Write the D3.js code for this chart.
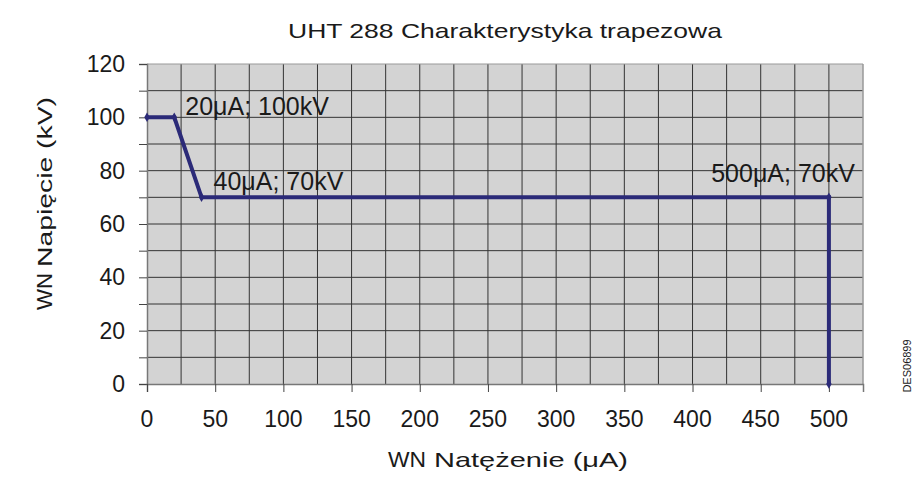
<!DOCTYPE html>
<html>
<head>
<meta charset="utf-8">
<script src="https://cdn.jsdelivr.net/npm/d3@7"></script>
<style>
  body { margin: 0; background: #fff; }
  text { font-family: "Liberation Sans", Arial, sans-serif; fill: #1a1a1a; }
</style>
</head>
<body>
<div id="chart"></div>
<script>
const svgWidth = 915;
const svgHeight = 478;

// data
const currentUA = [0, 20, 40, 500, 500];
const voltageKV = [100, 100, 70, 70, 0];
const pointLabels = ["20μA; 100kV", "40μA; 70kV", "500μA; 70kV"];
const labelIndex = [1, 2, 3];
const xTicks = [0, 50, 100, 150, 200, 250, 300, 350, 400, 450, 500];
const yTicks = [0, 20, 40, 60, 80, 100, 120];
const chartTitle = "UHT 288 Charakterystyka trapezowa";

const svg = d3.select("#chart")
  .append("svg")
  .attr("width", svgWidth)
  .attr("height", svgHeight);

const plot = {left: 147, right: 863, top: 64, bottom: 384};

const x = d3.scaleLinear().domain([0, 525]).range([plot.left, plot.right]);
const y = d3.scaleLinear().domain([0, 120]).range([plot.bottom, plot.top]);

// plot background
svg.append("rect")
  .attr("x", plot.left).attr("y", plot.top)
  .attr("width", plot.right - plot.left).attr("height", plot.bottom - plot.top)
  .attr("fill", "#d3d3d3");

// grid: every 25 on x, every 10 on y
const grid = svg.append("g");
grid.selectAll(".vg")
  .data(d3.range(25, 525, 25))
  .enter().append("line")
  .attr("x1", d => x(d)).attr("x2", d => x(d))
  .attr("y1", plot.top).attr("y2", plot.bottom)
  .attr("stroke", "#333")
  .attr("stroke-width", 1);
grid.selectAll(".hg")
  .data(d3.range(10, 121, 10))
  .enter().append("line")
  .attr("x1", plot.left).attr("x2", plot.right)
  .attr("y1", d => y(d)).attr("y2", d => y(d))
  .attr("stroke", d => d === 120 ? "#999" : "#333")
  .attr("stroke-width", 1);

// right frame
svg.append("line")
  .attr("x1", plot.right).attr("x2", plot.right)
  .attr("y1", plot.top).attr("y2", plot.bottom)
  .attr("stroke", "#999").attr("stroke-width", 1.5);

// axes
const yAxis = d3.axisLeft(y).tickValues(d3.range(0, 121, 10)).tickSize(8).tickFormat("");
const xAxis = d3.axisBottom(x).tickValues(xTicks).tickSize(8).tickFormat("");

const yG = svg.append("g").attr("transform", `translate(${plot.left},0)`).call(yAxis);
const xG = svg.append("g").attr("transform", `translate(0,${plot.bottom})`).call(xAxis);
[yG, xG].forEach(g => {
  g.select(".domain").attr("stroke", "#777").attr("stroke-width", 1.5);
  g.selectAll(".tick line").attr("stroke", "#444");
});

svg.append("g").selectAll("text")
  .data(yTicks)
  .enter().append("text")
  .attr("x", 125)
  .attr("y", d => y(d) + 8)
  .attr("text-anchor", "end")
  .attr("font-size", 23)
  .text(d => d);

svg.append("g").selectAll("text")
  .data(xTicks)
  .enter().append("text")
  .attr("x", d => x(d))
  .attr("y", 427)
  .attr("text-anchor", "middle")
  .attr("font-size", 23)
  .text(d => d);

// series
const pts = currentUA.map((c, i) => [c, voltageKV[i]]);
svg.append("path")
  .datum(pts)
  .attr("d", d3.line().x(d => x(d[0])).y(d => y(d[1])))
  .attr("fill", "none")
  .attr("stroke", "#2b2a78")
  .attr("stroke-width", 4)
  .attr("stroke-linejoin", "miter");

svg.selectAll(".mk")
  .data(pts)
  .enter().append("path")
  .attr("transform", d => `translate(${x(d[0])},${y(d[1])})`)
  .attr("d", d3.symbol(d3.symbolDiamond, 26))
  .attr("fill", "#2b2a78");

// point labels
const labelPos = [
  {dx: 11, dy: -2, anchor: "start"},
  {dx: 12, dy: -7, anchor: "start"},
  {dx: 26, dy: -15, anchor: "end"}
];
svg.selectAll(".pl")
  .data(labelIndex)
  .enter().append("text")
  .attr("x", (d, i) => x(currentUA[d]) + labelPos[i].dx)
  .attr("y", (d, i) => y(voltageKV[d]) + labelPos[i].dy)
  .attr("text-anchor", (d, i) => labelPos[i].anchor)
  .attr("font-size", 25)
  .text((d, i) => pointLabels[i]);

// titles
svg.append("text")
  .attr("x", 505).attr("y", 38)
  .attr("text-anchor", "middle")
  .attr("font-size", 21)
  .attr("textLength", 434)
  .attr("lengthAdjust", "spacingAndGlyphs")
  .text(chartTitle);

const xt = svg.append("g").attr("transform", "translate(388,467)");
xt.append("text").attr("font-size", 22)
  .attr("textLength", 38).attr("lengthAdjust", "spacingAndGlyphs")
  .text("WN");
xt.append("text").attr("x", 46)
  .attr("font-family", "DejaVu Sans").attr("font-size", 21)
  .attr("textLength", 194).attr("lengthAdjust", "spacingAndGlyphs")
  .text("Natężenie (μA)");

const yt = svg.append("g").attr("transform", "translate(52,310) rotate(-90)");
yt.append("text").attr("font-size", 22)
  .attr("textLength", 37).attr("lengthAdjust", "spacingAndGlyphs")
  .text("WN");
yt.append("text").attr("x", 43)
  .attr("font-family", "DejaVu Sans").attr("font-size", 21)
  .attr("textLength", 170).attr("lengthAdjust", "spacingAndGlyphs")
  .text("Napięcie (kV)");

svg.append("text")
  .attr("transform", "translate(911,366) rotate(-90)")
  .attr("text-anchor", "middle")
  .attr("font-size", 11)
  .attr("font-family", "Noto Sans")
  .text("DES06899");
</script>
</body>
</html>
